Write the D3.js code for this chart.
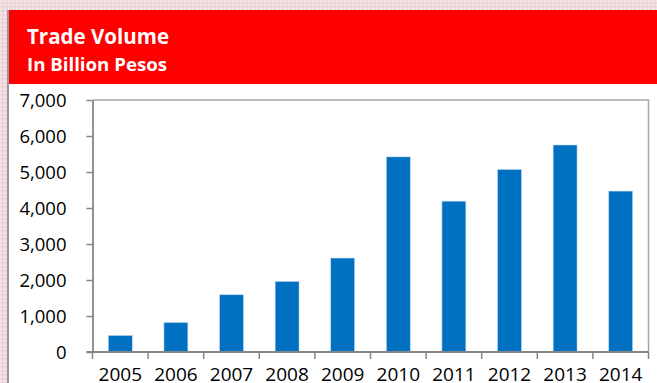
<!DOCTYPE html>
<html>
<head>
<meta charset="utf-8">
<script src="https://cdn.jsdelivr.net/npm/d3@7"></script>
<style>
  html, body { margin: 0; padding: 0; background: #efd9dc; }
  svg { display: block; }
</style>
</head>
<body>
<svg id="chart" width="657" height="383"></svg>
<script>
// Trade volume by year, in billion pesos
const years = ["2005", "2006", "2007", "2008", "2009", "2010", "2011", "2012", "2013", "2014"];
const volumes = [460, 820, 1590, 1960, 2610, 5420, 4190, 5070, 5750, 4470];
const yTicks = [0, 1000, 2000, 3000, 4000, 5000, 6000, 7000];
const titleText = "Trade Volume";
const subtitleText = "In Billion Pesos";

const W = 657, H = 383;
const svg = d3.select("#chart");

// speckled pink backdrop
const defs = svg.append("defs");
const pat = defs.append("pattern")
  .attr("id", "speckle").attr("width", 4).attr("height", 4)
  .attr("patternUnits", "userSpaceOnUse");
pat.append("rect").attr("width", 4).attr("height", 4).attr("fill", "#efd8db");
pat.append("rect").attr("x", 0).attr("y", 0).attr("width", 2).attr("height", 2).attr("fill", "#f6e6e8");
pat.append("rect").attr("x", 2).attr("y", 2).attr("width", 1).attr("height", 1).attr("fill", "#e6c4c8");
svg.append("rect").attr("width", W).attr("height", H).attr("fill", "url(#speckle)");

// panel
const panelX = 9, headerTop = 10, headerBottom = 84;
svg.append("rect").attr("x", panelX - 2).attr("y", headerTop).attr("width", 2).attr("height", H - headerTop)
  .attr("fill", "#9a9a9a");
svg.append("rect").attr("x", panelX).attr("y", headerBottom).attr("width", W - panelX).attr("height", H - headerBottom)
  .attr("fill", "#ffffff");
svg.append("rect").attr("x", panelX).attr("y", headerTop).attr("width", W - panelX).attr("height", headerBottom - headerTop)
  .attr("fill", "#ff0000");

svg.append("text").attr("x", 27).attr("y", 43.5)
  .attr("fill", "#ffffff").attr("font-family", "'Open Sans', sans-serif")
  .attr("font-weight", 700).attr("font-size", 20.5)
  .attr("textLength", 142).attr("lengthAdjust", "spacingAndGlyphs")
  .text(titleText);
svg.append("text").attr("x", 27).attr("y", 70.5)
  .attr("fill", "#ffffff").attr("font-family", "'Open Sans', sans-serif")
  .attr("font-weight", 700).attr("font-size", 18)
  .attr("textLength", 140).attr("lengthAdjust", "spacingAndGlyphs")
  .text(subtitleText);

// plot area
const plot = { left: 92.5, right: 648.5, top: 100, bottom: 352 };

const x = d3.scaleBand().domain(years).range([plot.left, plot.right]).paddingInner(0.57).paddingOuter(0.285);
const xEdges = d3.scaleBand().domain(years).range([plot.left, plot.right]).padding(0);
const y = d3.scaleLinear().domain([0, 7000]).range([plot.bottom, plot.top]);

// plot border (top and right)
svg.append("path")
  .attr("d", `M${plot.left},${plot.top}H${plot.right}V${plot.bottom}`)
  .attr("fill", "none").attr("stroke", "#a6a6a6").attr("stroke-width", 1.5);

// bars
svg.append("g").selectAll("rect")
  .data(years.map((yr, i) => ({ yr, v: volumes[i] })))
  .join("rect")
  .attr("x", d => x(d.yr))
  .attr("y", d => y(d.v))
  .attr("width", x.bandwidth())
  .attr("height", d => y(0) - y(d.v))
  .attr("fill", "#0070c0")
  .attr("stroke", "#bcd7ee").attr("stroke-width", 0.6);

const axisColor = "#868686";
const font = "'Open Sans', sans-serif";

// y axis
const yAxis = svg.append("g").attr("transform", `translate(${plot.left},0)`)
  .call(d3.axisLeft(y).tickValues(yTicks).tickSize(6).tickSizeOuter(0).tickPadding(20)
    .tickFormat(d3.format(",")));
yAxis.select(".domain").attr("stroke", axisColor).attr("stroke-width", 1.8);
yAxis.selectAll(".tick line").attr("stroke", axisColor).attr("stroke-width", 1.5);
yAxis.selectAll(".tick text").attr("fill", "#000").attr("font-family", font).attr("font-size", 18.5)
  .attr("dy", "0.36em");

// x axis: ticks at category boundaries, labels centred under bars
const xAxisG = svg.append("g").attr("transform", `translate(0,${plot.bottom})`);
xAxisG.append("line").attr("x1", plot.left - 6).attr("x2", plot.right)
  .attr("stroke", axisColor).attr("stroke-width", 1.8);
const boundaries = years.map(yr => xEdges(yr)).concat([plot.right]);
xAxisG.selectAll("line.tk").data(boundaries).join("line").attr("class", "tk")
  .attr("x1", d => d).attr("x2", d => d).attr("y1", 0).attr("y2", 7)
  .attr("stroke", axisColor).attr("stroke-width", 1.5);
xAxisG.selectAll("text").data(years).join("text")
  .attr("x", d => x(d) + x.bandwidth() / 2).attr("y", 28.5)
  .attr("text-anchor", "middle").attr("fill", "#000")
  .attr("font-family", font).attr("font-size", 19)
  .text(d => d);
</script>
</body>
</html>
